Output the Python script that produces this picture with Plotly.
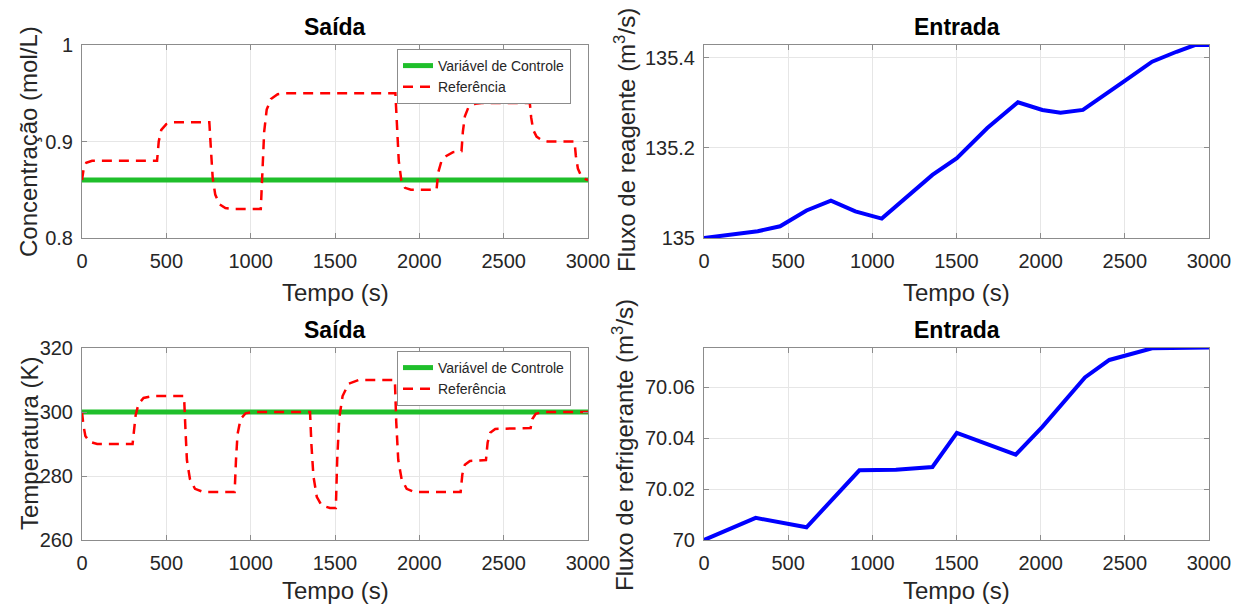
import plotly.graph_objects as go

# ---------------- data ----------------
t_ctrl = [0, 3000]
conc_ctrl = [0.86, 0.86]
temp_ctrl = [300, 300]

t_conc_ref = [0, 10, 25, 60, 445, 455, 470, 500, 540, 755, 765, 775, 790, 815, 850, 900,
              1060, 1068, 1080, 1095, 1120, 1160, 1200, 1858, 1866, 1878, 1893, 1915, 1950,
              2102, 2112, 2130, 2160, 2200, 2250, 2258, 2270, 2290, 2330, 2370, 2655, 2663,
              2675, 2695, 2730, 2760, 2920, 2928, 2940, 2960, 2985, 3000]
conc_ref = [0.86, 0.872, 0.878, 0.88, 0.88, 0.90, 0.912, 0.918, 0.92, 0.92, 0.89, 0.862, 0.845,
            0.835, 0.831, 0.83, 0.83, 0.87, 0.91, 0.933, 0.944, 0.949, 0.95, 0.95, 0.92, 0.88,
            0.86, 0.852, 0.85, 0.85, 0.868, 0.879, 0.885, 0.889, 0.89, 0.91, 0.926, 0.935,
            0.939, 0.94, 0.94, 0.925, 0.912, 0.905, 0.901, 0.90, 0.90, 0.885, 0.872, 0.864,
            0.861, 0.86]

t_temp_ref = [0, 8, 20, 45, 90, 300, 308, 318, 335, 365, 420, 605, 613, 622, 640, 670, 720,
              905, 913, 922, 940, 970, 1010, 1352, 1360, 1372, 1392, 1420, 1470, 1505, 1513,
              1525, 1545, 1580, 1640, 1855, 1863, 1875, 1895, 1925, 1970, 2245, 2255, 2270,
              2300, 2395, 2405, 2420, 2450, 2660, 2670, 2690, 2730, 3000]
temp_ref = [300, 296, 292.5, 290.7, 290, 290, 294, 299, 302.5, 304.4, 305, 305, 295, 285, 279,
            276, 275, 275, 285, 293, 297.8, 299.6, 300, 300, 290, 280, 273.5, 270.8, 270, 270,
            285, 298, 305, 308.8, 310, 310, 297, 285, 279, 276, 275, 275, 280.5, 283.5, 284.7,
            285, 290.5, 293.5, 294.7, 295, 297.8, 299.4, 300, 300]

t_reag = [0, 319, 452, 609, 754, 899, 1056, 1188, 1357, 1502, 1683, 1865, 2010, 2118, 2251,
          2493, 2662, 2807, 2916, 3000]
reag = [135.0, 135.015, 135.026, 135.061, 135.083, 135.059, 135.043, 135.085, 135.140, 135.177,
        135.244, 135.301, 135.284, 135.278, 135.284, 135.347, 135.391, 135.413, 135.428, 135.428]

t_refr = [0, 307, 609, 923, 1140, 1357, 1502, 1852, 2010, 2263, 2408, 2517, 2662, 3000]
refr = [70.0, 70.0087, 70.005, 70.0274, 70.0276, 70.0287, 70.0421, 70.0336, 70.0445, 70.0639,
        70.0708, 70.0728, 70.0754, 70.0757]

x_ticks = [0, 500, 1000, 1500, 2000, 2500, 3000]
conc_ticks = [0.8, 0.9, 1.0]
conc_tick_text = ["0.8", "0.9", "1"]
temp_ticks = [260, 280, 300, 320]
reag_ticks = [135.0, 135.2, 135.4]
reag_tick_text = ["135", "135.2", "135.4"]
refr_ticks = [70.0, 70.02, 70.04, 70.06]
refr_tick_text = ["70", "70.02", "70.04", "70.06"]

# ---------------- figure ----------------
W, H = 1249, 610
OFF = 8  # page body margin offset
FONT = "Liberation Sans, Arial, sans-serif"
GREEN = "#1fbf2b"
RED = "#ff0000"
BLUE = "#0000ff"
TXT = "#262626"
AXC = "#8c8c8c"


def px(x):
    return (x - OFF) / W


def py(y):
    return 1 - (y - OFF) / H


fig = go.Figure()

# top-left
fig.add_trace(go.Scatter(x=t_ctrl, y=conc_ctrl, mode="lines", name="Variável de Controle",
                         line=dict(color=GREEN, width=5), xaxis="x", yaxis="y", legend="legend"))
fig.add_trace(go.Scatter(x=t_conc_ref, y=conc_ref, mode="lines", name="Referência",
                         line=dict(color=RED, width=2.5, dash="10px,7px"),
                         xaxis="x", yaxis="y", legend="legend"))
# top-right
fig.add_trace(go.Scatter(x=t_reag, y=reag, mode="lines", showlegend=False,
                         line=dict(color=BLUE, width=4), xaxis="x2", yaxis="y2"))
# bottom-left
fig.add_trace(go.Scatter(x=t_ctrl, y=temp_ctrl, mode="lines", name="Variável de Controle",
                         line=dict(color=GREEN, width=5), xaxis="x3", yaxis="y3", legend="legend2"))
fig.add_trace(go.Scatter(x=t_temp_ref, y=temp_ref, mode="lines", name="Referência",
                         line=dict(color=RED, width=2.5, dash="10px,7px"),
                         xaxis="x3", yaxis="y3", legend="legend2"))
# bottom-right
fig.add_trace(go.Scatter(x=t_refr, y=refr, mode="lines", showlegend=False,
                         line=dict(color=BLUE, width=4), xaxis="x4", yaxis="y4"))

L1, R1 = 82, 588
L2, R2 = 704, 1209
T1, B1 = 45, 238
T2, B2 = 348, 540

common = dict(showline=True, linecolor=AXC, linewidth=1, mirror="ticks",
              ticks="inside", ticklen=5, tickcolor=AXC, showgrid=True,
              gridcolor="#e6e6e6", gridwidth=1, zeroline=False,
              tickfont=dict(family=FONT, size=20, color=TXT))


def xax(l, r, anchor):
    return dict(domain=[px(l), px(r)], range=[0, 3000], tickvals=x_ticks, anchor=anchor,
                ticklabelstandoff=5, **common)


def yax(t, b, rng, vals, text, anchor):
    d = dict(domain=[py(b), py(t)], range=rng, tickvals=vals, anchor=anchor,
             ticklabelstandoff=4, **common)
    if text is not None:
        d["ticktext"] = text
    return d


leg = dict(xanchor="left", yanchor="top", bgcolor="white", bordercolor=AXC, borderwidth=1,
           font=dict(family=FONT, size=14, color=TXT), tracegroupgap=0, itemwidth=30)

fig.update_layout(
    width=W, height=H,
    margin=dict(l=0, r=0, t=0, b=0, autoexpand=False),
    paper_bgcolor="white", plot_bgcolor="white",
    font=dict(family=FONT, color=TXT),
    xaxis=xax(L1, R1, "y"),
    yaxis=yax(T1, B1, [0.8, 1.0], conc_ticks, conc_tick_text, "x"),
    xaxis2=xax(L2, R2, "y2"),
    yaxis2=yax(T1, B1, [135.0, 135.428], reag_ticks, reag_tick_text, "x2"),
    xaxis3=xax(L1, R1, "y3"),
    yaxis3=yax(T2, B2, [260, 320], temp_ticks, None, "x3"),
    xaxis4=xax(L2, R2, "y4"),
    yaxis4=yax(T2, B2, [70.0, 70.0755], refr_ticks, refr_tick_text, "x4"),
    legend=dict(x=px(397), y=py(49), **leg),
    legend2=dict(x=px(397), y=py(351), **leg),
)

ann = []


def text(x, y, s, size, bold=False, angle=0):
    ann.append(dict(x=px(x), y=py(y), xref="paper", yref="paper", text=(f"<b>{s}</b>" if bold else s),
                    showarrow=False, textangle=angle, xanchor="center", yanchor="middle",
                    font=dict(family=FONT, size=size, color="black" if bold else TXT)))


text((L1 + R1) / 2, 27, "Saída", 23, bold=True)
text((L2 + R2) / 2, 27, "Entrada", 23, bold=True)
text((L1 + R1) / 2, 330, "Saída", 23, bold=True)
text((L2 + R2) / 2, 330, "Entrada", 23, bold=True)
text((L1 + R1) / 2, 292, "Tempo (s)", 24)
text((L2 + R2) / 2, 292, "Tempo (s)", 24)
text((L1 + R1) / 2, 590, "Tempo (s)", 24)
text((L2 + R2) / 2, 590, "Tempo (s)", 24)
text(29, 142, "Concentração (mol/L)", 24, angle=-90)
text(625, 140, "Fluxo de reagente (m<sup>3</sup>/s)", 24, angle=-90)
text(29, 444, "Temperatura (K)", 24, angle=-90)
text(623, 445, "Fluxo de refrigerante (m<sup>3</sup>/s)", 24, angle=-90)
fig.update_layout(annotations=ann)

fig.write_html("out.html")
